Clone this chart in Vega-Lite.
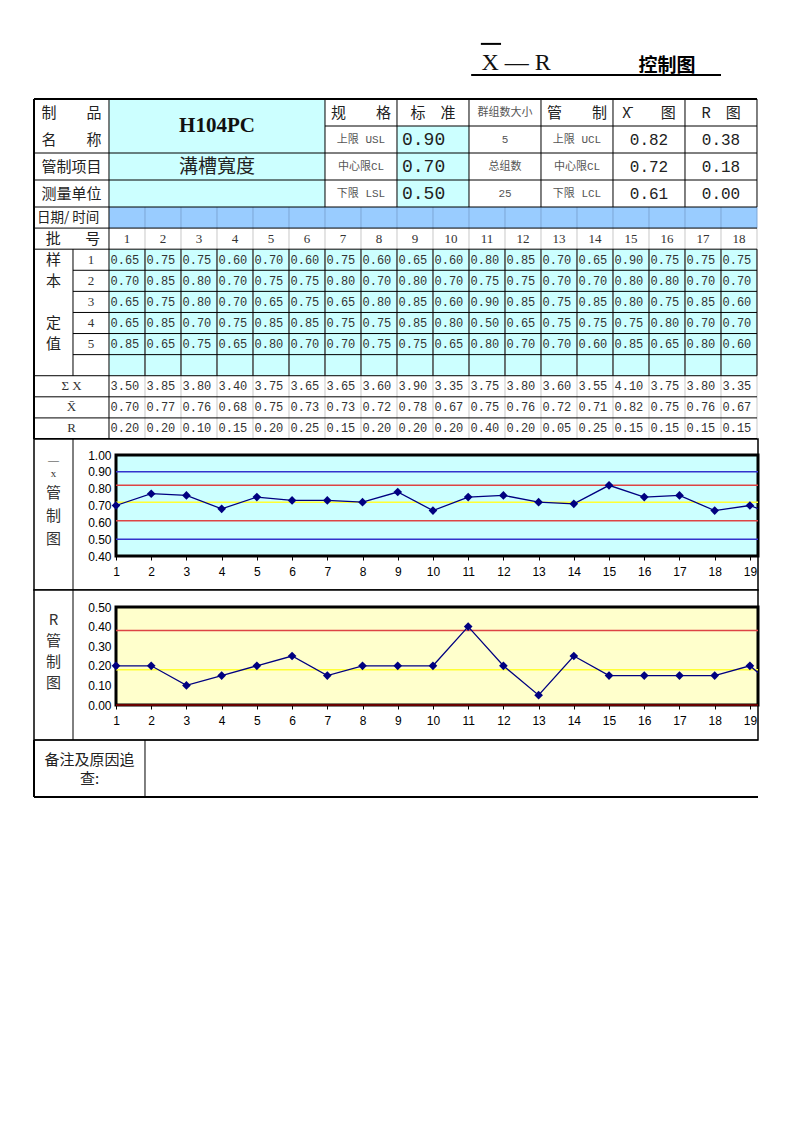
{
  "$schema": "https://vega.github.io/schema/vega-lite/v6.json",
  "padding": {"left": 33, "top": 0, "right": 0, "bottom": 0},
  "background": "white",
  "spacing": 0,
  "bounds": "flush",
  "resolve": {"scale": {"color": "independent", "fill": "independent"}},
  "config": {"view": {"stroke": null}},
  "datasets": {
    "samples": [
      {"b":1,"s":1,"v":0.65},{"b":1,"s":2,"v":0.70},{"b":1,"s":3,"v":0.65},{"b":1,"s":4,"v":0.65},{"b":1,"s":5,"v":0.85},
      {"b":2,"s":1,"v":0.75},{"b":2,"s":2,"v":0.85},{"b":2,"s":3,"v":0.75},{"b":2,"s":4,"v":0.85},{"b":2,"s":5,"v":0.65},
      {"b":3,"s":1,"v":0.75},{"b":3,"s":2,"v":0.80},{"b":3,"s":3,"v":0.80},{"b":3,"s":4,"v":0.70},{"b":3,"s":5,"v":0.75},
      {"b":4,"s":1,"v":0.60},{"b":4,"s":2,"v":0.70},{"b":4,"s":3,"v":0.70},{"b":4,"s":4,"v":0.75},{"b":4,"s":5,"v":0.65},
      {"b":5,"s":1,"v":0.70},{"b":5,"s":2,"v":0.75},{"b":5,"s":3,"v":0.65},{"b":5,"s":4,"v":0.85},{"b":5,"s":5,"v":0.80},
      {"b":6,"s":1,"v":0.60},{"b":6,"s":2,"v":0.75},{"b":6,"s":3,"v":0.75},{"b":6,"s":4,"v":0.85},{"b":6,"s":5,"v":0.70},
      {"b":7,"s":1,"v":0.75},{"b":7,"s":2,"v":0.80},{"b":7,"s":3,"v":0.65},{"b":7,"s":4,"v":0.75},{"b":7,"s":5,"v":0.70},
      {"b":8,"s":1,"v":0.60},{"b":8,"s":2,"v":0.70},{"b":8,"s":3,"v":0.80},{"b":8,"s":4,"v":0.75},{"b":8,"s":5,"v":0.75},
      {"b":9,"s":1,"v":0.65},{"b":9,"s":2,"v":0.80},{"b":9,"s":3,"v":0.85},{"b":9,"s":4,"v":0.85},{"b":9,"s":5,"v":0.75},
      {"b":10,"s":1,"v":0.60},{"b":10,"s":2,"v":0.70},{"b":10,"s":3,"v":0.60},{"b":10,"s":4,"v":0.80},{"b":10,"s":5,"v":0.65},
      {"b":11,"s":1,"v":0.80},{"b":11,"s":2,"v":0.75},{"b":11,"s":3,"v":0.90},{"b":11,"s":4,"v":0.50},{"b":11,"s":5,"v":0.80},
      {"b":12,"s":1,"v":0.85},{"b":12,"s":2,"v":0.75},{"b":12,"s":3,"v":0.85},{"b":12,"s":4,"v":0.65},{"b":12,"s":5,"v":0.70},
      {"b":13,"s":1,"v":0.70},{"b":13,"s":2,"v":0.70},{"b":13,"s":3,"v":0.75},{"b":13,"s":4,"v":0.75},{"b":13,"s":5,"v":0.70},
      {"b":14,"s":1,"v":0.65},{"b":14,"s":2,"v":0.70},{"b":14,"s":3,"v":0.85},{"b":14,"s":4,"v":0.75},{"b":14,"s":5,"v":0.60},
      {"b":15,"s":1,"v":0.90},{"b":15,"s":2,"v":0.80},{"b":15,"s":3,"v":0.80},{"b":15,"s":4,"v":0.75},{"b":15,"s":5,"v":0.85},
      {"b":16,"s":1,"v":0.75},{"b":16,"s":2,"v":0.80},{"b":16,"s":3,"v":0.75},{"b":16,"s":4,"v":0.80},{"b":16,"s":5,"v":0.65},
      {"b":17,"s":1,"v":0.75},{"b":17,"s":2,"v":0.70},{"b":17,"s":3,"v":0.85},{"b":17,"s":4,"v":0.70},{"b":17,"s":5,"v":0.80},
      {"b":18,"s":1,"v":0.75},{"b":18,"s":2,"v":0.70},{"b":18,"s":3,"v":0.60},{"b":18,"s":4,"v":0.70},{"b":18,"s":5,"v":0.60}
    ],
    "groups": [
      {"batch":1,"sum":3.50,"mean":0.70,"range":0.20},
      {"batch":2,"sum":3.85,"mean":0.77,"range":0.20},
      {"batch":3,"sum":3.80,"mean":0.76,"range":0.10},
      {"batch":4,"sum":3.40,"mean":0.68,"range":0.15},
      {"batch":5,"sum":3.75,"mean":0.75,"range":0.20},
      {"batch":6,"sum":3.65,"mean":0.73,"range":0.25},
      {"batch":7,"sum":3.65,"mean":0.73,"range":0.15},
      {"batch":8,"sum":3.60,"mean":0.72,"range":0.20},
      {"batch":9,"sum":3.90,"mean":0.78,"range":0.20},
      {"batch":10,"sum":3.35,"mean":0.67,"range":0.20},
      {"batch":11,"sum":3.75,"mean":0.75,"range":0.40},
      {"batch":12,"sum":3.80,"mean":0.76,"range":0.20},
      {"batch":13,"sum":3.60,"mean":0.72,"range":0.05},
      {"batch":14,"sum":3.55,"mean":0.71,"range":0.25},
      {"batch":15,"sum":4.10,"mean":0.82,"range":0.15},
      {"batch":16,"sum":3.75,"mean":0.75,"range":0.15},
      {"batch":17,"sum":3.80,"mean":0.76,"range":0.15},
      {"batch":18,"sum":3.35,"mean":0.67,"range":0.15},
      {"batch":19,"sum":null,"mean":0.70,"range":0.20},
      {"batch":20,"sum":null,"mean":0.62,"range":0.05}
    ],
    "xlim": [
      {"line":"USL","value":0.90},{"line":"UCL","value":0.82},{"line":"CL","value":0.72},{"line":"LCL","value":0.61},{"line":"LSL","value":0.50}
    ],
    "rlim": [
      {"line":"UCL","value":0.38},{"line":"CL","value":0.18},{"line":"LCL","value":0.00}
    ],
    "cells": [
      {"x0":0.5,"x1":6.5,"y0":-5.5,"y1":-1.5,"kind":"input"},
      {"x0":8.5,"x1":10.5,"y0":-4.5,"y1":-1.5,"kind":"input"},
      {"x0":0.5,"x1":18.5,"y0":-1.5,"y1":-0.5,"kind":"date"},
      {"x0":0.5,"x1":18.5,"y0":0.5,"y1":6.5,"kind":"input"}
    ],
    "lines": [
      {"x0":1.5,"x1":1.5,"y0":-0.5,"y1":9.5,"kind":"faint"},{"x0":2.5,"x1":2.5,"y0":-0.5,"y1":9.5,"kind":"faint"},{"x0":3.5,"x1":3.5,"y0":-0.5,"y1":9.5,"kind":"faint"},{"x0":4.5,"x1":4.5,"y0":-0.5,"y1":9.5,"kind":"faint"},{"x0":5.5,"x1":5.5,"y0":-0.5,"y1":9.5,"kind":"faint"},{"x0":6.5,"x1":6.5,"y0":-0.5,"y1":9.5,"kind":"faint"},{"x0":7.5,"x1":7.5,"y0":-0.5,"y1":9.5,"kind":"faint"},{"x0":8.5,"x1":8.5,"y0":-0.5,"y1":9.5,"kind":"faint"},{"x0":9.5,"x1":9.5,"y0":-0.5,"y1":9.5,"kind":"faint"},{"x0":10.5,"x1":10.5,"y0":-0.5,"y1":9.5,"kind":"faint"},{"x0":11.5,"x1":11.5,"y0":-0.5,"y1":9.5,"kind":"faint"},{"x0":12.5,"x1":12.5,"y0":-0.5,"y1":9.5,"kind":"faint"},{"x0":13.5,"x1":13.5,"y0":-0.5,"y1":9.5,"kind":"faint"},{"x0":14.5,"x1":14.5,"y0":-0.5,"y1":9.5,"kind":"faint"},{"x0":15.5,"x1":15.5,"y0":-0.5,"y1":9.5,"kind":"faint"},{"x0":16.5,"x1":16.5,"y0":-0.5,"y1":9.5,"kind":"faint"},{"x0":17.5,"x1":17.5,"y0":-0.5,"y1":9.5,"kind":"faint"},{"x0":18.5,"x1":18.5,"y0":-0.5,"y1":9.5,"kind":"faint"},
      {"x0":1.5,"x1":1.5,"y0":-1.5,"y1":-0.5,"kind":"fdate"},{"x0":2.5,"x1":2.5,"y0":-1.5,"y1":-0.5,"kind":"fdate"},{"x0":3.5,"x1":3.5,"y0":-1.5,"y1":-0.5,"kind":"fdate"},{"x0":4.5,"x1":4.5,"y0":-1.5,"y1":-0.5,"kind":"fdate"},{"x0":5.5,"x1":5.5,"y0":-1.5,"y1":-0.5,"kind":"fdate"},{"x0":6.5,"x1":6.5,"y0":-1.5,"y1":-0.5,"kind":"fdate"},{"x0":7.5,"x1":7.5,"y0":-1.5,"y1":-0.5,"kind":"fdate"},{"x0":8.5,"x1":8.5,"y0":-1.5,"y1":-0.5,"kind":"fdate"},{"x0":9.5,"x1":9.5,"y0":-1.5,"y1":-0.5,"kind":"fdate"},{"x0":10.5,"x1":10.5,"y0":-1.5,"y1":-0.5,"kind":"fdate"},{"x0":11.5,"x1":11.5,"y0":-1.5,"y1":-0.5,"kind":"fdate"},{"x0":12.5,"x1":12.5,"y0":-1.5,"y1":-0.5,"kind":"fdate"},{"x0":13.5,"x1":13.5,"y0":-1.5,"y1":-0.5,"kind":"fdate"},{"x0":14.5,"x1":14.5,"y0":-1.5,"y1":-0.5,"kind":"fdate"},{"x0":15.5,"x1":15.5,"y0":-1.5,"y1":-0.5,"kind":"fdate"},{"x0":16.5,"x1":16.5,"y0":-1.5,"y1":-0.5,"kind":"fdate"},{"x0":17.5,"x1":17.5,"y0":-1.5,"y1":-0.5,"kind":"fdate"},{"x0":18.5,"x1":18.5,"y0":-1.5,"y1":-0.5,"kind":"fdate"},
      {"x0":0.5,"x1":0.5,"y0":-5.5,"y1":9.5,"kind":"dark"},
      {"x0":6.5,"x1":6.5,"y0":-5.5,"y1":-1.5,"kind":"dark"},{"x0":8.5,"x1":8.5,"y0":-5.5,"y1":-1.5,"kind":"dark"},{"x0":10.5,"x1":10.5,"y0":-5.5,"y1":-1.5,"kind":"dark"},{"x0":12.5,"x1":12.5,"y0":-5.5,"y1":-1.5,"kind":"dark"},{"x0":14.5,"x1":14.5,"y0":-5.5,"y1":-1.5,"kind":"dark"},{"x0":16.5,"x1":16.5,"y0":-5.5,"y1":-1.5,"kind":"dark"},{"x0":18.5,"x1":18.5,"y0":-5.5,"y1":-1.5,"kind":"dark"},
      {"x0":6.5,"x1":18.5,"y0":-4.5,"y1":-4.5,"kind":"dark"},
      {"x0":-1.5833,"x1":18.5,"y0":-3.5,"y1":-3.5,"kind":"dark"},
      {"x0":-1.5833,"x1":18.5,"y0":-2.5,"y1":-2.5,"kind":"dark"},
      {"x0":-1.5833,"x1":18.5,"y0":-1.5,"y1":-1.5,"kind":"dark"},
      {"x0":-1.5833,"x1":18.5,"y0":-0.5,"y1":-0.5,"kind":"dark"},
      {"x0":-1.5833,"x1":18.5,"y0":0.5,"y1":0.5,"kind":"dark"},
      {"x0":-0.5,"x1":-0.5,"y0":0.5,"y1":6.5,"kind":"dark"},
      {"x0":1.5,"x1":1.5,"y0":0.5,"y1":6.5,"kind":"dark"},{"x0":2.5,"x1":2.5,"y0":0.5,"y1":6.5,"kind":"dark"},{"x0":3.5,"x1":3.5,"y0":0.5,"y1":6.5,"kind":"dark"},{"x0":4.5,"x1":4.5,"y0":0.5,"y1":6.5,"kind":"dark"},{"x0":5.5,"x1":5.5,"y0":0.5,"y1":6.5,"kind":"dark"},{"x0":6.5,"x1":6.5,"y0":0.5,"y1":6.5,"kind":"dark"},{"x0":7.5,"x1":7.5,"y0":0.5,"y1":6.5,"kind":"dark"},{"x0":8.5,"x1":8.5,"y0":0.5,"y1":6.5,"kind":"dark"},{"x0":9.5,"x1":9.5,"y0":0.5,"y1":6.5,"kind":"dark"},{"x0":10.5,"x1":10.5,"y0":0.5,"y1":6.5,"kind":"dark"},{"x0":11.5,"x1":11.5,"y0":0.5,"y1":6.5,"kind":"dark"},{"x0":12.5,"x1":12.5,"y0":0.5,"y1":6.5,"kind":"dark"},{"x0":13.5,"x1":13.5,"y0":0.5,"y1":6.5,"kind":"dark"},{"x0":14.5,"x1":14.5,"y0":0.5,"y1":6.5,"kind":"dark"},{"x0":15.5,"x1":15.5,"y0":0.5,"y1":6.5,"kind":"dark"},{"x0":16.5,"x1":16.5,"y0":0.5,"y1":6.5,"kind":"dark"},{"x0":17.5,"x1":17.5,"y0":0.5,"y1":6.5,"kind":"dark"},{"x0":18.5,"x1":18.5,"y0":0.5,"y1":6.5,"kind":"dark"},
      {"x0":-0.5,"x1":18.5,"y0":1.5,"y1":1.5,"kind":"dark"},{"x0":-0.5,"x1":18.5,"y0":2.5,"y1":2.5,"kind":"dark"},{"x0":-0.5,"x1":18.5,"y0":3.5,"y1":3.5,"kind":"dark"},{"x0":-0.5,"x1":18.5,"y0":4.5,"y1":4.5,"kind":"dark"},{"x0":-0.5,"x1":18.5,"y0":5.5,"y1":5.5,"kind":"dark"},
      {"x0":-1.5833,"x1":18.5,"y0":6.5,"y1":6.5,"kind":"dark"},
      {"x0":-1.5833,"x1":18.5,"y0":7.5,"y1":7.5,"kind":"dark"},
      {"x0":-1.5833,"x1":18.5,"y0":8.5,"y1":8.5,"kind":"dark"},
      {"x0":-1.5833,"x1":18.5,"y0":-5.5,"y1":-5.5,"kind":"thick"},
      {"x0":-1.5833,"x1":-1.5833,"y0":-5.5,"y1":9.5,"kind":"thick"},
      {"x0":-1.5833,"x1":18.5,"y0":9.5,"y1":9.5,"kind":"thick"},
      {"x0":10.56,"x1":17.5,"y0":-6.23,"y1":-6.23,"kind":"thick"},
      {"x0":10.83,"x1":11.39,"y0":-7.17,"y1":-7.17,"kind":"thick"}
    ],
    "labels": [
      {"c":-0.5417,"r":-5,"t":"制　　品","role":"head"},
      {"c":-0.5417,"r":-4,"t":"名　　称","role":"head"},
      {"c":-0.5417,"r":-3,"t":"管制项目","role":"head"},
      {"c":-0.5417,"r":-2,"t":"测量单位","role":"head"},
      {"c":7.5,"r":-5,"t":"规　　格","role":"head"},
      {"c":9.5,"r":-5,"t":"标　准","role":"head"},
      {"c":13.5,"r":-5,"t":"管　　制","role":"head"},
      {"c":15.5,"r":-5,"t":"X̄　　图","role":"head"},
      {"c":17.5,"r":-5,"t":"R　图","role":"head"},
      {"c":-1.05,"r":0,"t":"批","role":"head"},
      {"c":0.05,"r":0,"t":"号","role":"head"},
      {"c":-1.0417,"r":1,"t":"样","role":"head"},
      {"c":-1.0417,"r":2,"t":"本","role":"head"},
      {"c":-1.0417,"r":4,"t":"定","role":"head"},
      {"c":-1.0417,"r":5,"t":"值","role":"head"},
      {"c":3.5,"r":-4.5,"t":"H104PC","role":"big"},
      {"c":3.5,"r":-3,"t":"溝槽寬度","role":"name"},
      {"c":7.5,"r":-4,"t":"上限 USL","role":"small"},
      {"c":7.5,"r":-3,"t":"中心限CL","role":"small"},
      {"c":7.5,"r":-2,"t":"下限 LSL","role":"small"},
      {"c":11.5,"r":-5,"t":"群组数大小","role":"small"},
      {"c":11.5,"r":-4,"t":"5","role":"small"},
      {"c":11.5,"r":-3,"t":"总组数","role":"small"},
      {"c":11.5,"r":-2,"t":"25","role":"small"},
      {"c":13.5,"r":-4,"t":"上限 UCL","role":"small"},
      {"c":13.5,"r":-3,"t":"中心限CL","role":"small"},
      {"c":13.5,"r":-2,"t":"下限 LCL","role":"small"},
      {"c":8.5,"r":-4,"t":"0.90","role":"spec"},
      {"c":8.5,"r":-3,"t":"0.70","role":"spec"},
      {"c":8.5,"r":-2,"t":"0.50","role":"spec"},
      {"c":15.5,"r":-4,"t":"0.82","role":"ctl"},
      {"c":15.5,"r":-3,"t":"0.72","role":"ctl"},
      {"c":15.5,"r":-2,"t":"0.61","role":"ctl"},
      {"c":17.5,"r":-4,"t":"0.38","role":"ctl"},
      {"c":17.5,"r":-3,"t":"0.18","role":"ctl"},
      {"c":17.5,"r":-2,"t":"0.00","role":"ctl"},
      {"c":-1.5833,"r":-1,"t":"日期/ 时间","role":"date"},
      {"c":0,"r":1,"t":"1","role":"num"},
      {"c":0,"r":2,"t":"2","role":"num"},
      {"c":0,"r":3,"t":"3","role":"num"},
      {"c":0,"r":4,"t":"4","role":"num"},
      {"c":0,"r":5,"t":"5","role":"num"},
      {"c":-0.5417,"r":7,"t":"Σ X","role":"lab"},
      {"c":-0.5417,"r":8,"t":"X̄","role":"lab"},
      {"c":-0.5417,"r":9,"t":"R","role":"lab"},
      {"c":11.81,"r":-6.59,"t":"X — R","role":"title1"},
      {"c":16.0,"r":-6.5,"t":"控制图","role":"title2"}
    ],
    "xbarSide": [
      {"kind":"bar","c":-0.775,"t":"—\nx"},
      {"kind":"label","c":-0.775,"t":"管\n制\n图"},
      {"kind":"divider","c":-0.221,"t":""}
    ],
    "rSide": [
      {"kind":"label","c":-0.775,"t":"R\n管\n制\n图"},
      {"kind":"divider","c":-0.221,"t":""}
    ],
    "remarkLines": [
      {"x0":-1.5833,"x1":18.5278,"y0":0,"y1":0,"kind":"thin"},
      {"x0":1.5,"x1":1.5,"y0":0,"y1":1,"kind":"thin"},
      {"x0":-1.5833,"x1":-1.5833,"y0":0,"y1":1,"kind":"thick"},
      {"x0":-1.5833,"x1":18.5278,"y0":1,"y1":1,"kind":"thick"}
    ],
    "remarkText": [
      {"c":-0.0417,"r":0.5,"t":"备注及原因追\n查:"}
    ]
  },
  "vconcat": [
    {
      "width": 724,
      "height": 439,
      "layer": [
        {
          "data": {"name": "cells"},
          "mark": {"type": "rect", "strokeWidth": 0},
          "encoding": {
            "x": {"field": "x0", "type": "quantitative", "scale": {"domain": [-1.5833, 18.5278], "range": [0, 724], "nice": false, "zero": false}, "axis": null},
            "x2": {"field": "x1"},
            "y": {"field": "y0", "type": "quantitative", "scale": {"domain": [-8.5, -5.5, -1.5, 9.5], "range": [0, 99, 207, 439], "nice": false, "zero": false}, "axis": null},
            "y2": {"field": "y1"},
            "fill": {"field": "kind", "type": "nominal", "scale": {"domain": ["input", "date"], "range": ["#CCFFFF", "#99CCFF"]}, "legend": null}
          }
        },
        {
          "data": {"name": "lines"},
          "transform": [{"filter": "datum.kind !== 'thick'"}],
          "mark": {"type": "rule", "strokeWidth": 1},
          "encoding": {
            "x": {"field": "x0", "type": "quantitative", "scale": {"domain": [-1.5833, 18.5278], "range": [0, 724], "nice": false, "zero": false}, "axis": null},
            "x2": {"field": "x1"},
            "y": {"field": "y0", "type": "quantitative", "scale": {"domain": [-8.5, -5.5, -1.5, 9.5], "range": [0, 99, 207, 439], "nice": false, "zero": false}, "axis": null},
            "y2": {"field": "y1"},
            "color": {"field": "kind", "type": "nominal", "scale": {"domain": ["faint", "fdate", "dark"], "range": ["#C8C8C8", "#7EA6D6", "#000000"]}, "legend": null}
          }
        },
        {
          "data": {"name": "lines"},
          "transform": [{"filter": "datum.kind === 'thick'"}],
          "mark": {"type": "rule", "strokeWidth": 2, "color": "#000000"},
          "encoding": {
            "x": {"field": "x0", "type": "quantitative", "scale": {"domain": [-1.5833, 18.5278], "range": [0, 724], "nice": false, "zero": false}, "axis": null},
            "x2": {"field": "x1"},
            "y": {"field": "y0", "type": "quantitative", "scale": {"domain": [-8.5, -5.5, -1.5, 9.5], "range": [0, 99, 207, 439], "nice": false, "zero": false}, "axis": null},
            "y2": {"field": "y1"}
          }
        },
        {
          "data": {"name": "labels"},
          "transform": [{"filter": "datum.role === 'head'"}],
          "mark": {"type": "text", "font": "Noto Sans CJK SC", "fontSize": 15, "color": "#222222"},
          "encoding": {
            "x": {"field": "c", "type": "quantitative", "scale": {"domain": [-1.5833, 18.5278], "range": [0, 724], "nice": false, "zero": false}, "axis": null},
            "y": {"field": "r", "type": "quantitative", "scale": {"domain": [-8.5, -5.5, -1.5, 9.5], "range": [0, 99, 207, 439], "nice": false, "zero": false}, "axis": null},
            "text": {"field": "t"}
          }
        },
        {
          "data": {"name": "labels"},
          "transform": [{"filter": "datum.role === 'big'"}],
          "mark": {"type": "text", "font": "Liberation Serif", "fontSize": 21, "fontWeight": "bold", "color": "#111111"},
          "encoding": {
            "x": {"field": "c", "type": "quantitative", "scale": {"domain": [-1.5833, 18.5278], "range": [0, 724], "nice": false, "zero": false}, "axis": null},
            "y": {"field": "r", "type": "quantitative", "scale": {"domain": [-8.5, -5.5, -1.5, 9.5], "range": [0, 99, 207, 439], "nice": false, "zero": false}, "axis": null},
            "text": {"field": "t"}
          }
        },
        {
          "data": {"name": "labels"},
          "transform": [{"filter": "datum.role === 'name'"}],
          "mark": {"type": "text", "font": "Noto Sans CJK SC", "fontSize": 19, "color": "#222222"},
          "encoding": {
            "x": {"field": "c", "type": "quantitative", "scale": {"domain": [-1.5833, 18.5278], "range": [0, 724], "nice": false, "zero": false}, "axis": null},
            "y": {"field": "r", "type": "quantitative", "scale": {"domain": [-8.5, -5.5, -1.5, 9.5], "range": [0, 99, 207, 439], "nice": false, "zero": false}, "axis": null},
            "text": {"field": "t"}
          }
        },
        {
          "data": {"name": "labels"},
          "transform": [{"filter": "datum.role === 'small'"}],
          "mark": {"type": "text", "font": "Liberation Mono, Noto Sans CJK SC", "fontSize": 11, "color": "#555555"},
          "encoding": {
            "x": {"field": "c", "type": "quantitative", "scale": {"domain": [-1.5833, 18.5278], "range": [0, 724], "nice": false, "zero": false}, "axis": null},
            "y": {"field": "r", "type": "quantitative", "scale": {"domain": [-8.5, -5.5, -1.5, 9.5], "range": [0, 99, 207, 439], "nice": false, "zero": false}, "axis": null},
            "text": {"field": "t"}
          }
        },
        {
          "data": {"name": "labels"},
          "transform": [{"filter": "datum.role === 'spec'"}],
          "mark": {"type": "text", "font": "Liberation Mono", "fontSize": 18, "align": "left", "dx": 5, "color": "#222222"},
          "encoding": {
            "x": {"field": "c", "type": "quantitative", "scale": {"domain": [-1.5833, 18.5278], "range": [0, 724], "nice": false, "zero": false}, "axis": null},
            "y": {"field": "r", "type": "quantitative", "scale": {"domain": [-8.5, -5.5, -1.5, 9.5], "range": [0, 99, 207, 439], "nice": false, "zero": false}, "axis": null},
            "text": {"field": "t"}
          }
        },
        {
          "data": {"name": "labels"},
          "transform": [{"filter": "datum.role === 'ctl'"}],
          "mark": {"type": "text", "font": "Liberation Mono", "fontSize": 16, "color": "#222222"},
          "encoding": {
            "x": {"field": "c", "type": "quantitative", "scale": {"domain": [-1.5833, 18.5278], "range": [0, 724], "nice": false, "zero": false}, "axis": null},
            "y": {"field": "r", "type": "quantitative", "scale": {"domain": [-8.5, -5.5, -1.5, 9.5], "range": [0, 99, 207, 439], "nice": false, "zero": false}, "axis": null},
            "text": {"field": "t"}
          }
        },
        {
          "data": {"name": "labels"},
          "transform": [{"filter": "datum.role === 'date'"}],
          "mark": {"type": "text", "font": "Noto Sans CJK SC", "fontSize": 13.5, "align": "left", "dx": 3, "color": "#222222"},
          "encoding": {
            "x": {"field": "c", "type": "quantitative", "scale": {"domain": [-1.5833, 18.5278], "range": [0, 724], "nice": false, "zero": false}, "axis": null},
            "y": {"field": "r", "type": "quantitative", "scale": {"domain": [-8.5, -5.5, -1.5, 9.5], "range": [0, 99, 207, 439], "nice": false, "zero": false}, "axis": null},
            "text": {"field": "t"}
          }
        },
        {
          "data": {"name": "labels"},
          "transform": [{"filter": "datum.role === 'num' || datum.role === 'lab'"}],
          "mark": {"type": "text", "font": "Liberation Serif, Noto Sans CJK SC", "fontSize": 13, "color": "#333333"},
          "encoding": {
            "x": {"field": "c", "type": "quantitative", "scale": {"domain": [-1.5833, 18.5278], "range": [0, 724], "nice": false, "zero": false}, "axis": null},
            "y": {"field": "r", "type": "quantitative", "scale": {"domain": [-8.5, -5.5, -1.5, 9.5], "range": [0, 99, 207, 439], "nice": false, "zero": false}, "axis": null},
            "text": {"field": "t"}
          }
        },
        {
          "data": {"name": "labels"},
          "transform": [{"filter": "datum.role === 'title1'"}],
          "mark": {"type": "text", "font": "Liberation Serif", "fontSize": 24, "color": "#111111"},
          "encoding": {
            "x": {"field": "c", "type": "quantitative", "scale": {"domain": [-1.5833, 18.5278], "range": [0, 724], "nice": false, "zero": false}, "axis": null},
            "y": {"field": "r", "type": "quantitative", "scale": {"domain": [-8.5, -5.5, -1.5, 9.5], "range": [0, 99, 207, 439], "nice": false, "zero": false}, "axis": null},
            "text": {"field": "t"}
          }
        },
        {
          "data": {"name": "labels"},
          "transform": [{"filter": "datum.role === 'title2'"}],
          "mark": {"type": "text", "font": "Noto Sans CJK SC", "fontSize": 19, "fontWeight": "bold", "color": "#000000"},
          "encoding": {
            "x": {"field": "c", "type": "quantitative", "scale": {"domain": [-1.5833, 18.5278], "range": [0, 724], "nice": false, "zero": false}, "axis": null},
            "y": {"field": "r", "type": "quantitative", "scale": {"domain": [-8.5, -5.5, -1.5, 9.5], "range": [0, 99, 207, 439], "nice": false, "zero": false}, "axis": null},
            "text": {"field": "t"}
          }
        },
        {
          "data": {"name": "groups"},
          "transform": [{"filter": "datum.batch <= 18"}, {"calculate": "0", "as": "row"}],
          "mark": {"type": "text", "font": "Liberation Serif", "fontSize": 13, "color": "#333333"},
          "encoding": {
            "x": {"field": "batch", "type": "quantitative", "scale": {"domain": [-1.5833, 18.5278], "range": [0, 724], "nice": false, "zero": false}, "axis": null},
            "y": {"field": "row", "type": "quantitative", "scale": {"domain": [-8.5, -5.5, -1.5, 9.5], "range": [0, 99, 207, 439], "nice": false, "zero": false}, "axis": null},
            "text": {"field": "batch", "type": "quantitative", "format": "d"}
          }
        },
        {
          "data": {"name": "samples"},
          "mark": {"type": "text", "font": "Liberation Mono", "fontSize": 12, "align": "left", "dx": -16.5, "color": "#333333"},
          "encoding": {
            "x": {"field": "b", "type": "quantitative", "scale": {"domain": [-1.5833, 18.5278], "range": [0, 724], "nice": false, "zero": false}, "axis": null},
            "y": {"field": "s", "type": "quantitative", "scale": {"domain": [-8.5, -5.5, -1.5, 9.5], "range": [0, 99, 207, 439], "nice": false, "zero": false}, "axis": null},
            "text": {"field": "v", "type": "quantitative", "format": ".2f"}
          }
        },
        {
          "data": {"name": "groups"},
          "transform": [
            {"filter": "datum.batch <= 18"},
            {"fold": ["sum", "mean", "range"], "as": ["stat", "val"]},
            {"calculate": "datum.stat === 'sum' ? 7 : (datum.stat === 'mean' ? 8 : 9)", "as": "row"}
          ],
          "mark": {"type": "text", "font": "Liberation Mono", "fontSize": 12, "align": "left", "dx": -16.5, "color": "#333333"},
          "encoding": {
            "x": {"field": "batch", "type": "quantitative", "scale": {"domain": [-1.5833, 18.5278], "range": [0, 724], "nice": false, "zero": false}, "axis": null},
            "y": {"field": "row", "type": "quantitative", "scale": {"domain": [-8.5, -5.5, -1.5, 9.5], "range": [0, 99, 207, 439], "nice": false, "zero": false}, "axis": null},
            "text": {"field": "val", "type": "quantitative", "format": ".2f"}
          }
        }
      ]
    },
    {
      "width": 724,
      "height": 151,
      "view": {"stroke": "#000000", "strokeWidth": 1.5, "fill": "#FFFFFF"},
      "encoding": {
        "x": {"type": "quantitative", "scale": {"domain": [1, 19.23], "range": [82, 724], "nice": false, "zero": false},
          "axis": {"orient": "bottom", "offset": -34, "values": [1,2,3,4,5,6,7,8,9,10,11,12,13,14,15,16,17,18,19], "format": "d", "grid": false, "domain": false, "tickColor": "#000000", "tickSize": 4, "labelFont": "Liberation Sans", "labelFontSize": 12, "labelColor": "#000000", "labelPadding": 6, "labelOverlap": false, "labelFlush": false, "title": null}},
        "y": {"type": "quantitative", "scale": {"domain": [0.4, 1.0], "range": [117, 16], "nice": false, "zero": false},
          "axis": {"orient": "left", "offset": -82, "values": [0.4, 0.5, 0.6, 0.7, 0.8, 0.9, 1.0], "tickCount": 7, "format": ".2f", "grid": false, "ticks": false, "domain": false, "labelFont": "Liberation Sans", "labelFontSize": 12, "labelColor": "#000000", "labelPadding": 5, "labelOverlap": false, "labelFlush": false, "title": null}}
      },
      "layer": [
        {
          "data": {"name": "xlim"},
          "transform": [{"aggregate": [{"op": "max", "field": "value", "as": "hi"}]}],
          "mark": {"type": "rect", "fill": "#CCFFFF", "stroke": "#000000", "strokeWidth": 3},
          "encoding": {
            "x": {"datum": 1},
            "x2": {"datum": 19.23},
            "y": {"datum": 0.4},
            "y2": {"datum": 1.0}
          }
        },
        {
          "data": {"name": "xbarSide"},
          "transform": [{"filter": "datum.kind === 'divider'"}],
          "mark": {"type": "rule", "color": "#000000", "strokeWidth": 1},
          "encoding": {
            "x": {"field": "c"},
            "y": null
          }
        },
        {
          "data": {"name": "xbarSide"},
          "transform": [{"filter": "datum.kind === 'bar'"}],
          "mark": {"type": "text", "lineBreak": "\n", "font": "Liberation Serif", "fontSize": 11, "lineHeight": 13, "dy": -54, "color": "#333333"},
          "encoding": {
            "x": {"field": "c"},
            "y": null,
            "text": {"field": "t"}
          }
        },
        {
          "data": {"name": "xbarSide"},
          "transform": [{"filter": "datum.kind === 'label'"}],
          "mark": {"type": "text", "lineBreak": "\n", "font": "Noto Sans CJK SC", "fontSize": 15, "lineHeight": 23, "dy": -22, "color": "#333333"},
          "encoding": {
            "x": {"field": "c"},
            "y": null,
            "text": {"field": "t"}
          }
        },
        {
          "data": {"name": "xlim"},
          "mark": {"type": "rule", "strokeWidth": 1.5},
          "encoding": {
            "x": {"datum": 1},
            "x2": {"datum": 19.23},
            "y": {"field": "value"},
            "color": {"field": "line", "type": "nominal", "scale": {"domain": ["USL", "UCL", "CL", "LCL", "LSL"], "range": ["#3333CC", "#DD4444", "#FFFF33", "#DD4444", "#3333CC"]}, "legend": null}
          }
        },
        {
          "data": {"name": "groups"},
          "mark": {"type": "line", "color": "#000080", "strokeWidth": 1.3, "clip": true},
          "encoding": {
            "x": {"field": "batch"},
            "y": {"field": "mean"}
          }
        },
        {
          "data": {"name": "groups"},
          "mark": {"type": "point", "shape": "diamond", "filled": true, "color": "#000080", "size": 75, "opacity": 1, "clip": true},
          "encoding": {
            "x": {"field": "batch"},
            "y": {"field": "mean"}
          }
        }
      ]
    },
    {
      "width": 724,
      "height": 150,
      "view": {"stroke": "#000000", "strokeWidth": 1.5, "fill": "#FFFFFF"},
      "encoding": {
        "x": {"type": "quantitative", "scale": {"domain": [1, 19.23], "range": [82, 724], "nice": false, "zero": false},
          "axis": {"orient": "bottom", "offset": -35, "values": [1,2,3,4,5,6,7,8,9,10,11,12,13,14,15,16,17,18,19], "format": "d", "grid": false, "domain": false, "tickColor": "#000000", "tickSize": 4, "labelFont": "Liberation Sans", "labelFontSize": 12, "labelColor": "#000000", "labelPadding": 6, "labelOverlap": false, "labelFlush": false, "title": null}},
        "y": {"type": "quantitative", "scale": {"domain": [0, 0.5], "range": [115, 17], "nice": false, "zero": false},
          "axis": {"orient": "left", "offset": -82, "values": [0, 0.1, 0.2, 0.3, 0.4, 0.5], "tickCount": 6, "format": ".2f", "grid": false, "ticks": false, "domain": false, "labelFont": "Liberation Sans", "labelFontSize": 12, "labelColor": "#000000", "labelPadding": 5, "labelOverlap": false, "labelFlush": false, "title": null}}
      },
      "layer": [
        {
          "data": {"name": "rlim"},
          "transform": [{"aggregate": [{"op": "max", "field": "value", "as": "hi"}]}],
          "mark": {"type": "rect", "fill": "#FFFFCC", "stroke": "#000000", "strokeWidth": 3},
          "encoding": {
            "x": {"datum": 1},
            "x2": {"datum": 19.23},
            "y": {"datum": 0},
            "y2": {"datum": 0.5}
          }
        },
        {
          "data": {"name": "rSide"},
          "transform": [{"filter": "datum.kind === 'divider'"}],
          "mark": {"type": "rule", "color": "#000000", "strokeWidth": 1},
          "encoding": {
            "x": {"field": "c"},
            "y": null
          }
        },
        {
          "data": {"name": "rSide"},
          "transform": [{"filter": "datum.kind === 'label'"}],
          "mark": {"type": "text", "lineBreak": "\n", "font": "Noto Sans CJK SC", "fontSize": 15, "lineHeight": 21, "dy": -45, "color": "#333333"},
          "encoding": {
            "x": {"field": "c"},
            "y": null,
            "text": {"field": "t"}
          }
        },
        {
          "data": {"name": "rlim"},
          "mark": {"type": "rule", "strokeWidth": 1.5},
          "encoding": {
            "x": {"datum": 1},
            "x2": {"datum": 19.23},
            "y": {"field": "value"},
            "color": {"field": "line", "type": "nominal", "scale": {"domain": ["UCL", "CL", "LCL"], "range": ["#DD4444", "#FFFF33", "#8B0000"]}, "legend": null}
          }
        },
        {
          "data": {"name": "groups"},
          "mark": {"type": "line", "color": "#000080", "strokeWidth": 1.3, "clip": true},
          "encoding": {
            "x": {"field": "batch"},
            "y": {"field": "range"}
          }
        },
        {
          "data": {"name": "groups"},
          "mark": {"type": "point", "shape": "diamond", "filled": true, "color": "#000080", "size": 75, "opacity": 1, "clip": true},
          "encoding": {
            "x": {"field": "batch"},
            "y": {"field": "range"}
          }
        }
      ]
    },
    {
      "width": 724,
      "height": 57,
      "layer": [
        {
          "data": {"name": "remarkLines"},
          "transform": [{"filter": "datum.kind === 'thin'"}],
          "mark": {"type": "rule", "strokeWidth": 1, "color": "#000000"},
          "encoding": {
            "x": {"field": "x0", "type": "quantitative", "scale": {"domain": [-1.5833, 18.5278], "range": [0, 724], "nice": false, "zero": false}, "axis": null},
            "x2": {"field": "x1"},
            "y": {"field": "y0", "type": "quantitative", "scale": {"domain": [0, 1], "range": [0, 57], "nice": false, "zero": false}, "axis": null},
            "y2": {"field": "y1"}
          }
        },
        {
          "data": {"name": "remarkLines"},
          "transform": [{"filter": "datum.kind === 'thick'"}],
          "mark": {"type": "rule", "strokeWidth": 2, "color": "#000000"},
          "encoding": {
            "x": {"field": "x0", "type": "quantitative", "scale": {"domain": [-1.5833, 18.5278], "range": [0, 724], "nice": false, "zero": false}, "axis": null},
            "x2": {"field": "x1"},
            "y": {"field": "y0", "type": "quantitative", "scale": {"domain": [0, 1], "range": [0, 57], "nice": false, "zero": false}, "axis": null},
            "y2": {"field": "y1"}
          }
        },
        {
          "data": {"name": "remarkText"},
          "mark": {"type": "text", "lineBreak": "\n", "font": "Noto Sans CJK SC", "fontSize": 15, "lineHeight": 19, "dy": -9, "color": "#222222"},
          "encoding": {
            "x": {"field": "c", "type": "quantitative", "scale": {"domain": [-1.5833, 18.5278], "range": [0, 724], "nice": false, "zero": false}, "axis": null},
            "y": {"field": "r", "type": "quantitative", "scale": {"domain": [0, 1], "range": [0, 57], "nice": false, "zero": false}, "axis": null},
            "text": {"field": "t"}
          }
        }
      ]
    }
  ]
}
